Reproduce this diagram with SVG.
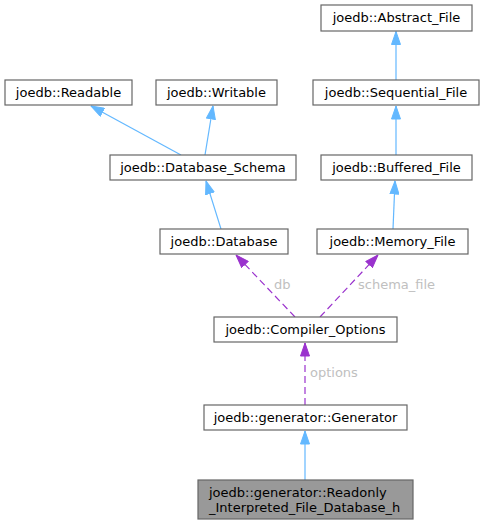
<svg xmlns="http://www.w3.org/2000/svg" width="485" height="525" viewBox="0 0 485 525">
<style>
.box{fill:#ffffff;stroke:#666666;stroke-width:1.2}
.hl{fill:#999999;stroke:#666666;stroke-width:1.2}
.t{font-family:"DejaVu Sans",sans-serif;font-size:13px;fill:#000000}
.inh{fill:none;stroke:#63b8ff;stroke-width:1.2}
.use{fill:none;stroke:#9a32cd;stroke-width:1.2;stroke-dasharray:7,4}
.lbl{font-family:"DejaVu Sans",sans-serif;font-size:13px;fill:#c0c0c0}
</style>
<defs>
<marker id="ab" viewBox="0 0 14 10" refX="13.5" refY="5" markerWidth="14" markerHeight="10" markerUnits="userSpaceOnUse" orient="auto">
<path d="M0.5,0.5 L13.5,5 L0.5,9.5 z" fill="#63b8ff" stroke="#63b8ff"/>
</marker>
<marker id="ap" viewBox="0 0 14 10" refX="13.5" refY="5" markerWidth="14" markerHeight="10" markerUnits="userSpaceOnUse" orient="auto">
<path d="M0.5,0.5 L13.5,5 L0.5,9.5 z" fill="#9a32cd" stroke="#9a32cd"/>
</marker>
</defs>
<g id="connectors">
<path class="inh" d="M396,80 L396,31.5" marker-end="url(#ab)"/>
<path class="inh" d="M181,155 L91,106" marker-end="url(#ab)"/>
<path class="inh" d="M205,155 L213,106" marker-end="url(#ab)"/>
<path class="inh" d="M396,155 L396,106" marker-end="url(#ab)"/>
<path class="inh" d="M221,229 L206,181" marker-end="url(#ab)"/>
<path class="inh" d="M393,229 L395,181" marker-end="url(#ab)"/>
<path class="use" d="M295,317 L236,255" marker-end="url(#ap)"/>
<text class="lbl" x="274" y="289">db</text>
<path class="use" d="M320,317 L378,255" marker-end="url(#ap)"/>
<text class="lbl" x="358" y="289">schema_file</text>
<path class="use" d="M305,405 L305,343" marker-end="url(#ap)"/>
<text class="lbl" x="310" y="377">options</text>
<path class="inh" d="M305,480 L305,431" marker-end="url(#ab)"/>
</g>
<g id="abstract_file"><rect class="box" x="321" y="5" width="151" height="26"/><text class="t" x="396.5" y="22" text-anchor="middle">joedb::Abstract_File</text></g>
<g id="readable"><rect class="box" x="5" y="80" width="127" height="25"/><text class="t" x="68.5" y="96.5" text-anchor="middle">joedb::Readable</text></g>
<g id="writable"><rect class="box" x="156" y="80" width="121" height="25"/><text class="t" x="216.5" y="96.5" text-anchor="middle">joedb::Writable</text></g>
<g id="sequential_file"><rect class="box" x="313" y="80" width="166" height="25"/><text class="t" x="396" y="96.5" text-anchor="middle">joedb::Sequential_File</text></g>
<g id="database_schema"><rect class="box" x="110" y="155" width="186" height="25"/><text class="t" x="203" y="171.5" text-anchor="middle">joedb::Database_Schema</text></g>
<g id="buffered_file"><rect class="box" x="321" y="155" width="151" height="25"/><text class="t" x="396.5" y="171.5" text-anchor="middle">joedb::Buffered_File</text></g>
<g id="database"><rect class="box" x="160" y="229" width="128" height="25"/><text class="t" x="224" y="245.5" text-anchor="middle">joedb::Database</text></g>
<g id="memory_file"><rect class="box" x="317" y="229" width="151" height="25"/><text class="t" x="392.5" y="245.5" text-anchor="middle">joedb::Memory_File</text></g>
<g id="compiler_options"><rect class="box" x="214" y="317" width="183" height="25"/><text class="t" x="305.5" y="333.5" text-anchor="middle">joedb::Compiler_Options</text></g>
<g id="generator"><rect class="box" x="204" y="405" width="203" height="25"/><text class="t" x="305.5" y="421.5" text-anchor="middle">joedb::generator::Generator</text></g>
<g id="readonly"><rect class="hl" x="198" y="480" width="215" height="39"/><text class="t" x="209" y="496.5">joedb::generator::Readonly</text><text class="t" x="209" y="511.5">_Interpreted_File_Database_h</text></g>
</svg>
